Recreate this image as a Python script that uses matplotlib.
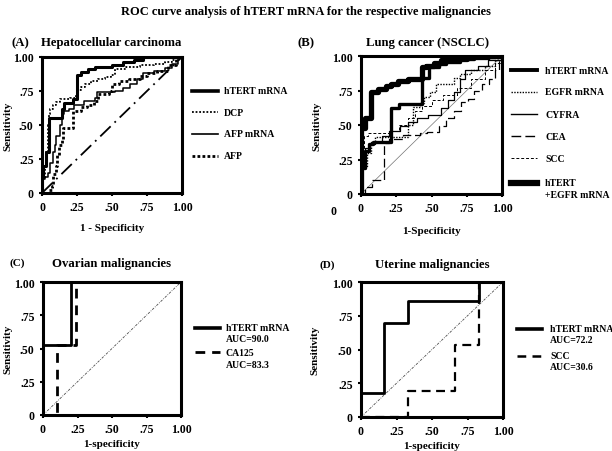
import numpy as np
import matplotlib
matplotlib.use("Agg")
import matplotlib.pyplot as plt
from matplotlib.lines import Line2D

plt.rcParams['font.family'] = ['Liberation Serif', 'DejaVu Serif']
plt.rcParams['font.weight'] = 'bold'
plt.rcParams['axes.labelweight'] = 'bold'

# =============================
# data (ROC corner points: fpr where the curve rises, tpr after the rise)
# =============================
tick_vals = [0, 0.25, 0.5, 0.75, 1.0]
tick_labels = ['0', '.25', '.50', '.75', '1.00']

# (A) Hepatocellular carcinoma
a_htert_x = [0, 0, 0.01, 0.03, 0.05, 0.14, 0.16, 0.22, 0.25, 0.28, 0.33, 0.38, 0.5, 0.58, 0.66, 0.72, 1.0]
a_htert_y = [0, 0.12, 0.2, 0.3, 0.55, 0.62, 0.66, 0.69, 0.87, 0.89, 0.91, 0.93, 0.94, 0.96, 0.98, 1.0, 1.0]
a_dcp_x = [0, 0.01, 0.02, 0.03, 0.04, 0.045, 0.05, 0.06, 0.08, 0.1, 0.13, 0.2, 0.24, 0.26, 0.28, 0.31,
           0.35, 0.4, 0.45, 0.49, 0.52, 0.6, 0.7, 0.8, 0.88, 0.93, 0.95, 1.0]
a_dcp_y = [0, 0.1, 0.2, 0.3, 0.4, 0.5, 0.58, 0.62, 0.65, 0.67, 0.69, 0.7, 0.72, 0.76, 0.78, 0.8,
           0.82, 0.84, 0.85, 0.87, 0.91, 0.93, 0.94, 0.95, 0.96, 0.98, 1.0, 1.0]
a_afpm_x = [0, 0, 0.02, 0.04, 0.06, 0.08, 0.09, 0.1, 0.13, 0.14, 0.16, 0.19, 0.23, 0.3, 0.38, 0.39,
            0.5, 0.52, 0.58, 0.63, 0.68, 0.72, 0.8, 0.88, 0.93, 0.97, 1.0]
a_afpm_y = [0, 0.1, 0.12, 0.15, 0.22, 0.3, 0.35, 0.42, 0.5, 0.58, 0.6, 0.62, 0.65, 0.68, 0.7, 0.74,
            0.74, 0.75, 0.77, 0.8, 0.84, 0.88, 0.9, 0.92, 0.95, 1.0, 1.0]
a_afp_x = [0, 0.05, 0.07, 0.08, 0.1, 0.11, 0.12, 0.14, 0.15, 0.22, 0.28, 0.32, 0.37, 0.4, 0.48, 0.5,
           0.55, 0.62, 0.7, 0.75, 0.82, 0.9, 0.96, 1.0]
a_afp_y = [0, 0.02, 0.05, 0.14, 0.2, 0.28, 0.35, 0.4, 0.48, 0.6, 0.63, 0.65, 0.68, 0.73, 0.75, 0.8,
           0.82, 0.84, 0.86, 0.88, 0.9, 0.94, 1.0, 1.0]

# (B) Lung cancer (NSCLC)
b_combo_x = [0, 0, 0.03, 0.07, 0.12, 0.18, 0.21, 0.26, 0.33, 0.43, 0.46, 0.52, 0.57, 0.62, 0.75, 0.9, 1.0]
b_combo_y = [0, 0.48, 0.55, 0.74, 0.76, 0.785, 0.8, 0.82, 0.83, 0.92, 0.93, 0.95, 0.97, 0.98, 0.99, 1.0, 1.0]
b_htert_x = [0, 0, 0.026, 0.06, 0.085, 0.215, 0.27, 0.43, 0.48, 0.55, 0.6, 0.7, 0.8, 0.95, 1.0]
b_htert_y = [0, 0.19, 0.31, 0.36, 0.38, 0.62, 0.65, 0.84, 0.92, 0.94, 0.96, 0.98, 0.99, 1.0, 1.0]
b_egfr_x = [0, 0.01, 0.04, 0.07, 0.1, 0.33, 0.37, 0.42, 0.45, 0.49, 0.53, 0.56, 0.66, 0.7, 0.78, 0.88, 0.95, 1.0]
b_egfr_y = [0, 0.2, 0.3, 0.38, 0.41, 0.5, 0.63, 0.66, 0.7, 0.74, 0.8, 0.8, 0.84, 0.87, 0.9, 0.93, 0.97, 1.0]
b_cyfra_x = [0, 0, 0.03, 0.06, 0.1, 0.15, 0.2, 0.28, 0.33, 0.4, 0.475, 0.57, 0.62, 0.66, 0.7, 0.74, 0.83, 0.9, 1.0]
b_cyfra_y = [0, 0.25, 0.33, 0.36, 0.38, 0.42, 0.46, 0.49, 0.52, 0.55, 0.57, 0.62, 0.68, 0.74, 0.83, 0.9, 0.93, 0.97, 1.0]
b_cea_x = [0, 0.03, 0.08, 0.16, 0.2, 0.3, 0.42, 0.47, 0.55, 0.6, 0.66, 0.71, 0.76, 0.8, 0.86, 0.91, 0.95, 0.98, 1.0]
b_cea_y = [0, 0.05, 0.1, 0.37, 0.4, 0.43, 0.44, 0.45, 0.49, 0.55, 0.6, 0.67, 0.69, 0.75, 0.8, 0.83, 0.9, 1.0, 1.0]
b_scc_x = [0, 0, 0.02, 0.05, 0.2, 0.27, 0.33, 0.38, 0.43, 0.5, 0.58, 0.68, 0.78, 0.88, 0.95, 1.0]
b_scc_y = [0, 0.2, 0.42, 0.44, 0.46, 0.5, 0.55, 0.6, 0.64, 0.68, 0.72, 0.77, 0.83, 0.9, 0.95, 1.0]

# (C) Ovarian malignancies
c_htert_x = [0, 0, 0.2, 1.0]
c_htert_y = [0, 0.53, 1.0, 1.0]
c_ca125_x = [0, 0.1, 0.24, 1.0]
c_ca125_y = [0, 0.53, 1.0, 1.0]

# (D) Uterine malignancies
d_htert_x = [0, 0, 0.16, 0.33, 0.83, 1.0]
d_htert_y = [0, 0.18, 0.7, 0.86, 1.0, 1.0]
d_scc_x = [0, 0.33, 0.66, 0.83, 1.0]
d_scc_y = [0, 0.19, 0.53, 1.0, 1.0]

W, H = 612, 452


def fx(px):
    return px / W


def fy(py):
    return 1 - py / H


def make_axes(fig, left, top, right, bottom):
    ax = fig.add_axes([fx(left), fy(bottom), fx(right) - fx(left), fy(top) - fy(bottom)])
    ax.set_xlim(0, 1)
    ax.set_ylim(0, 1)
    ax.set_xticks(tick_vals)
    ax.set_xticklabels(tick_labels)
    ax.set_yticks(tick_vals)
    ax.set_yticklabels(tick_labels)
    ax.tick_params(direction='out', length=2, width=1.5, labelsize=8.5, pad=4)
    for s in ax.spines.values():
        s.set_linewidth(2.2)
    return ax


def roc(ax, x, y, **kw):
    ax.plot(x, y, drawstyle='steps-post', color='black', **kw)


def legend_entry(fig, x0, x1, py, label, tx, **kw):
    fig.add_artist(Line2D([fx(x0), fx(x1)], [fy(py), fy(py)], color='black', **kw))
    fig.text(fx(tx), fy(py), label, fontsize=7, va='center', ha='left')


fig = plt.figure(figsize=(6.12, 4.52), dpi=100)
fig.text(0.5, fy(12), 'ROC curve analysis of hTERT mRNA for the respective malignancies',
         ha='center', va='center', fontsize=9)

# ---- (A)
ax = make_axes(fig, 42, 58, 182, 194)
roc(ax, a_htert_x, a_htert_y, lw=2.2, zorder=5)
roc(ax, a_dcp_x, a_dcp_y, lw=1.3, linestyle=(0, (1, 1)))
roc(ax, a_afpm_x, a_afpm_y, lw=1.1)
roc(ax, a_afp_x, a_afp_y, lw=2.0, linestyle=(0, (1, 0.8)))
ax.plot([0, 1], [0, 1], color='black', lw=1.3, linestyle=(0, (8, 3, 1, 3)))
ax.set_xlabel('1 - Specificity', fontsize=8)
ax.set_ylabel('Sensitivity', fontsize=8)
ax.xaxis.set_label_coords(0.5, -0.22)
ax.yaxis.set_label_coords(-0.21, 0.5)
fig.text(fx(12), fy(43), '(A)', fontsize=9.2, va='center')
fig.text(fx(111), fy(43), 'Hepatocellular carcinoma', fontsize=9.2, va='center', ha='center')
legend_entry(fig, 192, 218, 92, 'hTERT mRNA', 224, lw=2.6)
legend_entry(fig, 192, 218, 113, 'DCP', 224, lw=1.3, linestyle=(0, (1, 1)))
legend_entry(fig, 192, 218, 135, 'AFP mRNA', 224, lw=1.2)
legend_entry(fig, 192, 218, 157, 'AFP', 224, lw=2.0, linestyle=(0, (1, 0.8)))

# ---- (B)
ax = make_axes(fig, 361, 57, 502, 195)
ax.plot([0, 1], [0, 1], color='0.45', lw=0.5)
roc(ax, b_cea_x, b_cea_y, lw=0.9, linestyle=(0, (7, 3)))
roc(ax, b_scc_x, b_scc_y, lw=0.7, linestyle=(0, (3, 2)))
roc(ax, b_cyfra_x, b_cyfra_y, lw=0.9)
roc(ax, b_egfr_x, b_egfr_y, lw=1.0, linestyle=(0, (1, 1)))
roc(ax, b_htert_x, b_htert_y, lw=2.4, zorder=5)
roc(ax, b_combo_x, b_combo_y, lw=3.8, zorder=6)
ax.set_xlabel('1-Specificity', fontsize=8)
ax.set_ylabel('Sensitivity', fontsize=8)
ax.xaxis.set_label_coords(0.5, -0.23)
ax.yaxis.set_label_coords(-0.28, 0.5)
fig.text(fx(298), fy(43), '(B)', fontsize=9.2, va='center')
fig.text(fx(427), fy(43), 'Lung cancer (NSCLC)', fontsize=9.2, va='center', ha='center')
fig.text(fx(334), fy(212), '0', fontsize=8.5, va='center', ha='center')
legend_entry(fig, 511, 537, 71, 'hTERT mRNA', 545, lw=2.8)
legend_entry(fig, 511, 537, 93, 'EGFR mRNA', 545, lw=1.0, linestyle=(0, (1, 1)))
legend_entry(fig, 511, 537, 115, 'CYFRA', 545, lw=1.0)
legend_entry(fig, 511, 537, 137, 'CEA', 545, lw=1.0, linestyle=(0, (7, 3)))
legend_entry(fig, 511, 537, 159, 'SCC', 545, lw=0.7, linestyle=(0, (3, 2)))
legend_entry(fig, 511, 537, 184, 'hTERT', 545, lw=4.5)
fig.text(fx(545), fy(196), '+EGFR mRNA', fontsize=7, va='center', ha='left')

# ---- (C)
ax = make_axes(fig, 43, 283, 181, 416)
ax.plot([0, 1], [0, 1], color='0.3', lw=0.6, linestyle=(0, (3, 1.5, 1, 1.5)))
roc(ax, c_htert_x, c_htert_y, lw=2.0, zorder=5)
roc(ax, c_ca125_x, c_ca125_y, lw=2.0, linestyle=(0, (3.5, 2.5)))
ax.set_xlabel('1-specificity', fontsize=8)
ax.set_ylabel('Sensitivity', fontsize=8)
ax.xaxis.set_label_coords(0.5, -0.18)
ax.yaxis.set_label_coords(-0.225, 0.5)
fig.text(fx(10), fy(263), '(C)', fontsize=8, va='center')
fig.text(fx(111), fy(264), 'Ovarian malignancies', fontsize=9.2, va='center', ha='center')
legend_entry(fig, 195, 220, 329, 'hTERT mRNA', 226, lw=2.6)
fig.text(fx(226), fy(340), 'AUC=90.0', fontsize=7, va='center')
legend_entry(fig, 195, 220, 353, 'CA125', 226, lw=2.0, linestyle=(0, (3.5, 2.5)))
fig.text(fx(226), fy(366), 'AUC=83.3', fontsize=7, va='center')

# ---- (D)
ax = make_axes(fig, 361, 283, 503, 418)
ax.plot([0, 1], [0, 1], color='0.3', lw=0.6, linestyle=(0, (3, 1.5, 1, 1.5)))
roc(ax, d_htert_x, d_htert_y, lw=2.0, zorder=5)
roc(ax, d_scc_x, d_scc_y, lw=1.6, linestyle=(0, (4, 2.5)))
ax.set_xlabel('1-specificity', fontsize=8)
ax.set_ylabel('Sensitivity', fontsize=8)
ax.xaxis.set_label_coords(0.5, -0.18)
ax.yaxis.set_label_coords(-0.29, 0.5)
fig.text(fx(320), fy(265), '(D)', fontsize=8, va='center')
fig.text(fx(432), fy(265), 'Uterine malignancies', fontsize=9.2, va='center', ha='center')
legend_entry(fig, 517, 542, 330, 'hTERT mRNA', 550, lw=2.6)
fig.text(fx(550), fy(341), 'AUC=72.2', fontsize=7, va='center')
legend_entry(fig, 517, 542, 357, 'SCC', 550, lw=1.8, linestyle=(0, (3.5, 2.5)))
fig.text(fx(550), fy(368), 'AUC=30.6', fontsize=7, va='center')

fig.savefig('out.png', dpi=100)
